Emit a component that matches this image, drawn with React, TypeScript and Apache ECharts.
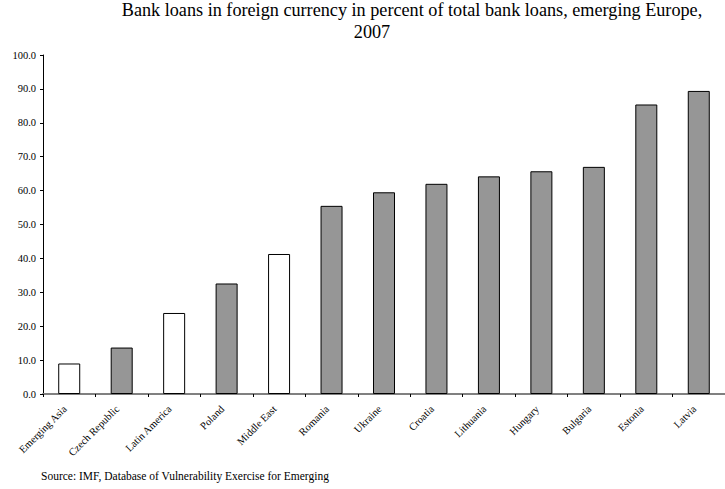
import React, { useEffect, useRef } from "react";
import * as echarts from "echarts";

const categories = [
  "Emerging Asia", "Czech Republic", "Latin America", "Poland", "Middle East",
  "Romania", "Ukraine", "Croatia", "Lithuania", "Hungary", "Bulgaria", "Estonia", "Latvia",
];
const values = [9.0, 13.7, 23.9, 32.6, 41.3, 55.5, 59.5, 62.0, 64.2, 65.7, 67.0, 85.4, 89.4];
const nonEurope = ["Emerging Asia", "Latin America", "Middle East"];
const titleLine1 = "Bank loans in foreign currency in percent of total bank loans, emerging Europe,";
const titleLine2 = "2007";
const sourceText = "Source: IMF, Database of Vulnerability Exercise for Emerging";

const FONT = "'Liberation Serif', 'Times New Roman', serif";

export default function App() {
  const ref = useRef<HTMLDivElement>(null);
  useEffect(() => {
    if (!ref.current) return;
    const chart = echarts.init(ref.current, null, { renderer: "svg" });
    chart.setOption({
      animation: false,
      backgroundColor: "#ffffff",
      textStyle: { fontFamily: FONT },
      graphic: [
        { type: "text", x: 412, y: 19, style: { text: titleLine1, fontFamily: FONT, fontSize: 18.2, fill: "#000", textAlign: "center", textVerticalAlign: "bottom" } },
        { type: "text", x: 372, y: 41, style: { text: titleLine2, fontFamily: FONT, fontSize: 18.2, fill: "#000", textAlign: "center", textVerticalAlign: "bottom" } },
        { type: "text", x: 41, y: 482, style: { text: sourceText, fontFamily: FONT, fontSize: 11.5, fill: "#000", textVerticalAlign: "bottom" } },
      ],
      grid: { left: 43, right: -8, top: 55, bottom: 95, containLabel: false },
      xAxis: {
        type: "category",
        data: categories,
        axisLine: { lineStyle: { color: "#808080", width: 2 } },
        axisTick: { show: true, inside: false, length: 3, lineStyle: { color: "#000" }, alignWithLabel: false },
        axisLabel: { rotate: 45, interval: 0, fontSize: 10.5, color: "#000", fontFamily: FONT, margin: 9, padding: [0, 6, 0, 0] },
        splitLine: { show: false },
      },
      yAxis: {
        type: "value",
        min: 0,
        max: 100,
        interval: 10,
        axisLine: { show: true, lineStyle: { color: "#000", width: 1 } },
        axisTick: { show: true, length: 3, lineStyle: { color: "#000" } },
        axisLabel: { formatter: (v: number) => v.toFixed(1), fontSize: 10.5, color: "#000", fontFamily: FONT, margin: 7 },
        splitLine: { show: false },
      },
      series: [
        {
          type: "bar",
          barWidth: 22,
          data: values.map((v, i) => ({
            value: v,
            itemStyle: {
              color: nonEurope.includes(categories[i]) ? "#ffffff" : "#969696",
              borderColor: "#000",
              borderWidth: 1,
            },
          })),
        },
      ],
    });
    return () => chart.dispose();
  }, []);
  return <div ref={ref} style={{ width: 725, height: 489, position: "absolute", left: 0, top: 0 }} />;
}
